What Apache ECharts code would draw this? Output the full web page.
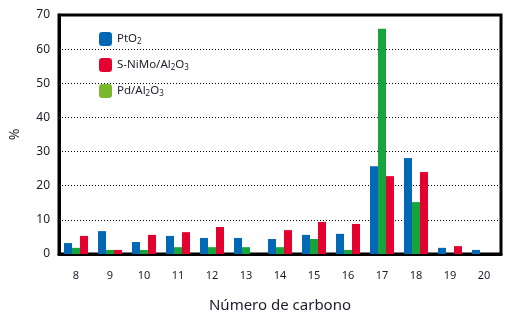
<!DOCTYPE html>
<html>
<head>
<meta charset="utf-8">
<script src="https://cdn.jsdelivr.net/npm/echarts@6/dist/echarts.min.js"></script>
<style>
  html, body { margin: 0; padding: 0; background: #fff; }
  #chart { width: 517px; height: 324px; }
</style>
</head>
<body>
<div id="chart"></div>
<script>
var carbonos = ['8', '9', '10', '11', '12', '13', '14', '15', '16', '17', '18', '19', '20'];
var ptO2 = [3.2, 6.7, 3.5, 5.3, 4.7, 4.7, 4.4, 5.6, 5.9, 25.7, 28.1, 1.8, 1.2];
var pdAl2O3 = [1.8, 1.2, 1.2, 2.0, 2.0, 2.0, 2.0, 4.4, 1.2, 66.0, 15.2, 0, 0];
var niMoAl2O3 = [5.3, 1.2, 5.6, 6.4, 7.9, 0, 7.0, 9.4, 8.8, 22.8, 24.0, 2.3, 0];
var yTicks = [0, 10, 20, 30, 40, 50, 60, 70];

var fuente = '"Noto Sans", "Open Sans", sans-serif';
var textoEje = '#1c1c2c';

function showChart() {
    var dom = document.getElementById('chart');
    var myChart = echarts.init(dom);

    var etiquetas = {
        'PtO2': '{t|PtO}{s|2}',
        'S-NiMo/Al2O3': '{t|S-NiMo/Al}{s|2}{t|O}{s|3}',
        'Pd/Al2O3': '{t|Pd/Al}{s|2}{t|O}{s|3}'
    };

    var option = {
        animation: false,
        grid: {
            left: 57, right: 16, top: 15, bottom: 70,
            show: true, borderColor: '#000', borderWidth: 3
        },
        legend: {
            orient: 'vertical',
            left: 99, top: 32,
            padding: 0,
            itemWidth: 13, itemHeight: 14,
            itemGap: 12,
            data: ['PtO2', 'S-NiMo/Al2O3', {name: 'Pd/Al2O3', itemStyle: {color: '#79b82b'}}],
            formatter: function (name) { return etiquetas[name]; },
            textStyle: {
                fontFamily: fuente,
                color: textoEje,
                rich: {
                    t: {fontSize: 11.5, fontFamily: fuente, color: textoEje},
                    s: {fontSize: 8, fontFamily: fuente, color: textoEje, verticalAlign: 'bottom', padding: [6, 0, 0, 0]}
                }
            }
        },
        xAxis: {
            type: 'category',
            data: carbonos,
            name: 'Número de carbono',
            nameLocation: 'middle',
            nameGap: 44,
            nameMoveOverlap: false,
            nameTextStyle: {fontFamily: fuente, fontSize: 15, color: textoEje},
            axisLine: {lineStyle: {color: '#000', width: 3}},
            axisTick: {show: false},
            axisLabel: {fontFamily: fuente, fontSize: 11, color: textoEje, margin: 16}
        },
        yAxis: {
            type: 'value',
            min: yTicks[0],
            max: yTicks[yTicks.length - 1],
            interval: 10,
            name: '%',
            nameLocation: 'middle',
            nameGap: 37,
            nameMoveOverlap: false,
            nameRotate: 90,
            nameTextStyle: {fontFamily: fuente, fontSize: 14, color: textoEje},
            axisLine: {show: true, lineStyle: {color: '#000', width: 3}},
            axisTick: {show: false},
            axisLabel: {fontFamily: fuente, fontSize: 12, color: textoEje, margin: 9},
            splitLine: {lineStyle: {color: '#000', type: [1, 2], width: 1}}
        },
        series: [{
            name: 'PtO2',
            type: 'bar',
            barWidth: 8,
            barGap: 0,
            itemStyle: {color: '#0068b4'},
            data: ptO2
        }, {
            name: 'Pd/Al2O3',
            type: 'bar',
            barWidth: 8,
            barGap: 0,
            itemStyle: {color: '#17a43c'},
            data: pdAl2O3
        }, {
            name: 'S-NiMo/Al2O3',
            type: 'bar',
            barWidth: 8,
            barGap: 0,
            itemStyle: {color: '#e4002f'},
            data: niMoAl2O3
        }]
    };

    myChart.setOption(option, true);

    window.addEventListener('resize', function () {
        myChart.resize();
    });
}
showChart();
</script>
</body>
</html>
